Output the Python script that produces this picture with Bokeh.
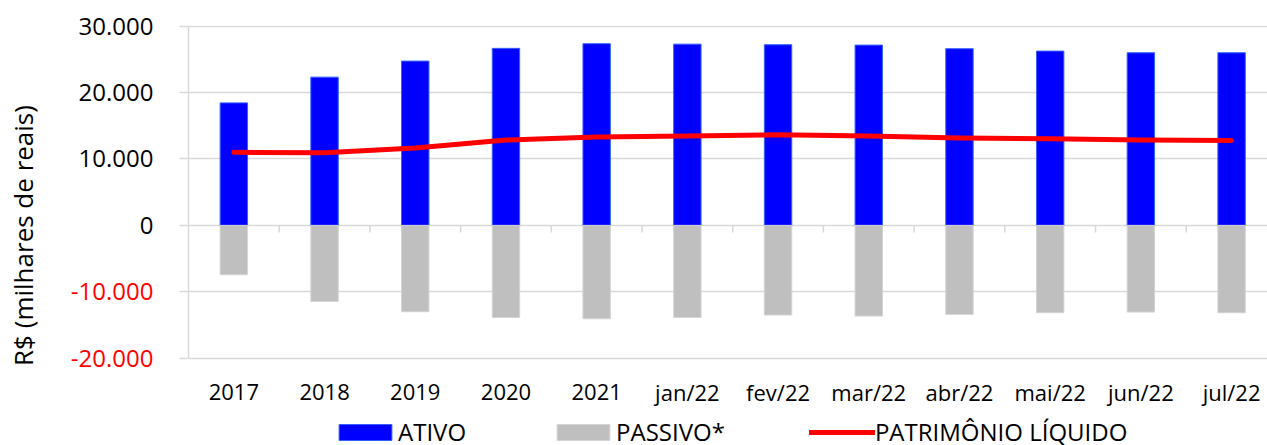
import math
from bokeh.plotting import figure
from bokeh.models import (Range1d, FixedTicker, LinearAxis, Legend, LegendItem,
                          ColumnDataSource)
from bokeh.core.properties import value
from bokeh.embed import file_html
from bokeh.resources import INLINE

categories = ["2017", "2018", "2019", "2020", "2021", "jan/22", "fev/22",
              "mar/22", "abr/22", "mai/22", "jun/22", "jul/22"]
ativo = [18450, 22330, 24740, 26660, 27360, 27300, 27210, 27150, 26610, 26250, 26000, 26000]
passivo = [-7430, -11450, -13000, -13860, -14060, -13860, -13500, -13650, -13400, -13150, -13050, -13150]
patrimonio = [11000, 10950, 11650, 12850, 13300, 13450, 13650, 13450, 13150, 13050, 12850, 12800]
y_ticks = [-20000, -10000, 0, 10000, 20000, 30000]
y_tick_labels = ["-20.000", "-10.000", "0", "10.000", "20.000", "30.000"]
y_axis_title = "R$ (milhares de reais)"
legend_labels = ["ATIVO", "PASSIVO*", "PATRIMÔNIO LÍQUIDO"]

FONT = "Open Sans"
GRID = "#D9D9D9"

x_pos = [i + 0.5 for i in range(len(categories))]
boundaries = list(range(1, len(categories)))
y_min, y_max = min(y_ticks), max(y_ticks)
src = ColumnDataSource(dict(x=x_pos, cat=categories, ativo=ativo,
                            passivo=passivo, pl=patrimonio,
                            base=[y_min] * len(categories)))

# plot area reaches the bottom of the page so the category labels and the
# legend below the -20.000 line are drawn inside it
p = figure(width=1267, height=445, output_backend="svg", toolbar_location=None,
           x_range=Range1d(0, 11.896), y_range=Range1d(-33148, 30105),
           x_axis_location=None,
           min_border_left=188, min_border_right=0, min_border_top=25,
           min_border_bottom=0)
p.outline_line_color = None
p.background_fill_color = "white"
p.border_fill_color = "white"
p.xgrid.visible = False
p.ygrid.ticker = FixedTicker(ticks=y_ticks)
p.ygrid.grid_line_color = GRID
p.ygrid.grid_line_width = 1.5

# tick marks on the zero line, between categories
p.ray(x=boundaries, y=[0] * len(boundaries), length=7, length_units="screen",
      angle=-math.pi / 2, line_color=GRID, line_width=1.5)

# bars and line
r_at = p.vbar(x="x", top="ativo", bottom=0, width=0.302, source=src,
              fill_color="#0000FF", line_color="#3060FF", line_width=1)
r_pa = p.vbar(x="x", top=0, bottom="passivo", width=0.302, source=src,
              fill_color="#BFBFBF", line_color="#D4D4D4", line_width=1)
r_pl = p.line(x="x", y="pl", source=src, line_color="#FF0000", line_width=5,
              line_cap="round", line_join="round")

# category labels under the -20.000 line
p.text(x="x", y="base", text="cat", source=src, y_offset=34,
       text_align="center", text_baseline="middle",
       text_font=value(FONT), text_font_size="22px", text_color="black")

# y axis: tick marks for all, black labels for non-negative values
ya = p.yaxis[0]
ya.ticker = FixedTicker(ticks=y_ticks)
ya.bounds = (y_min, y_max)
ya.major_label_overrides = {t: (l if t >= 0 else "") for t, l in zip(y_ticks, y_tick_labels)}
ya.axis_line_color = GRID
ya.axis_line_width = 1.5
ya.major_tick_line_color = GRID
ya.major_tick_line_width = 1.5
ya.major_tick_in = 0
ya.major_tick_out = 9
ya.minor_tick_line_color = None
ya.major_label_text_font = FONT
ya.major_label_text_font_size = "24px"
ya.major_label_text_color = "black"
ya.major_label_standoff = 26

# red labels for negative values, drawn back over the label column
neg_axis = LinearAxis(ticker=FixedTicker(ticks=[t for t in y_ticks if t < 0]),
                      bounds=(y_min, y_max),
                      major_label_overrides={t: l for t, l in zip(y_ticks, y_tick_labels) if t < 0},
                      axis_line_color=None,
                      major_tick_line_color=None, major_tick_in=0, major_tick_out=0,
                      minor_tick_line_color=None,
                      major_label_text_font=FONT, major_label_text_font_size="24px",
                      major_label_text_color="#FF0000", major_label_standoff=-78,
                      axis_label=y_axis_title, axis_label_text_font=FONT,
                      axis_label_text_font_size="26px", axis_label_text_font_style="normal",
                      axis_label_text_color="black", axis_label_standoff=27)
p.add_layout(neg_axis, "left")

# legend
legend = Legend(items=[LegendItem(label=legend_labels[0], renderers=[r_at]),
                       LegendItem(label=legend_labels[1], renderers=[r_pa]),
                       LegendItem(label=legend_labels[2], renderers=[r_pl])],
                location=(144, -5), orientation="horizontal",
                glyph_width=66, glyph_height=20, label_standoff=0, spacing=84,
                label_height=37, padding=0, margin=0,
                border_line_color=None, background_fill_alpha=0,
                label_text_font=FONT, label_text_font_size="24px",
                label_text_color="black")
p.add_layout(legend, "center")

open("out.html", "w").write(file_html(p, INLINE))
